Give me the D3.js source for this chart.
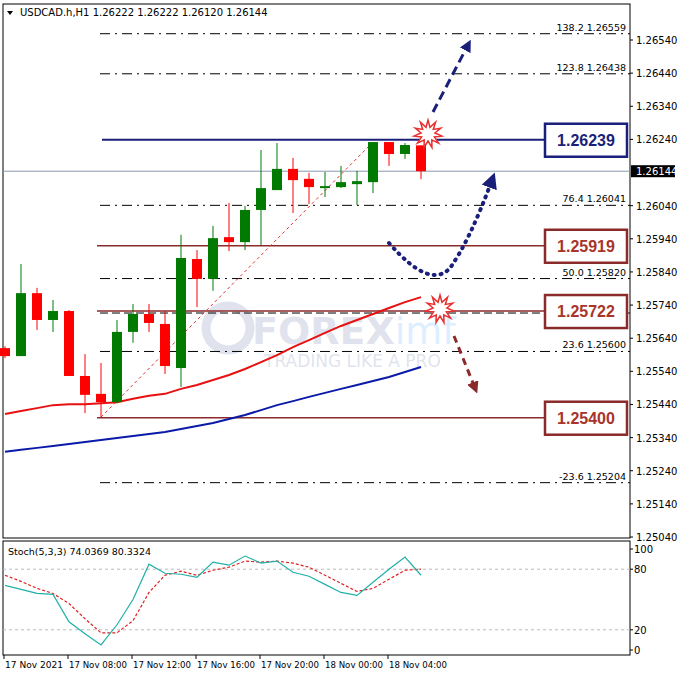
<!DOCTYPE html>
<html><head><meta charset="utf-8">
<script src="https://cdn.jsdelivr.net/npm/d3@7"></script>
<style>body{margin:0;background:#fff}svg{font-family:Tahoma,"DejaVu Sans",sans-serif}</style>
</head><body><svg id="c" width="678" height="678"></svg>
<script>
const opens=[1.25610,1.25586,1.25776,1.25695,1.25722,1.25526,1.25472,1.25447,1.25659,1.25713,1.25683,1.25550,1.25879,1.25819,1.25945,1.25930,1.26027,1.26087,1.26151,1.26121,1.26093,1.26096,1.26105,1.26111,1.26232,1.26196,1.26222];
const highs=[1.25616,1.25864,1.25792,1.25755,1.25725,1.25592,1.25565,1.25695,1.25743,1.25743,1.25722,1.25952,1.25906,1.25979,1.26048,1.26039,1.26208,1.26229,1.26184,1.26139,1.26142,1.26160,1.26145,1.26232,1.26232,1.26229,1.26222];
const lows=[1.25580,1.25586,1.25665,1.25659,1.25526,1.25414,1.25402,1.25444,1.25626,1.25659,1.25532,1.25493,1.25734,1.25783,1.25903,1.25906,1.25921,1.26087,1.26018,1.26045,1.26066,1.26093,1.26042,1.26078,1.26160,1.26181,1.26120];
const closes=[1.25586,1.25776,1.25695,1.25722,1.25526,1.25469,1.25447,1.25659,1.25713,1.25686,1.25556,1.25882,1.25819,1.25942,1.25930,1.26027,1.26093,1.26151,1.26117,1.26096,1.26099,1.26111,1.26114,1.26232,1.26196,1.26223,1.26144];
const maFast=[1.25411,1.25420,1.25429,1.25438,1.25441,1.25441,1.25444,1.25447,1.25457,1.25466,1.25472,1.25487,1.25499,1.25514,1.25529,1.25547,1.25568,1.25589,1.25613,1.25634,1.25656,1.25677,1.25695,1.25713,1.25731,1.25749,1.25764];
const maSlow=[1.25297,1.25303,1.25309,1.25315,1.25321,1.25327,1.25333,1.25339,1.25345,1.25351,1.25357,1.25366,1.25375,1.25384,1.25396,1.25408,1.25423,1.25438,1.25450,1.25463,1.25475,1.25487,1.25499,1.25511,1.25523,1.25538,1.25553];
const stochMain=[64,60,56,55,28,16,5,25,50,85,76,75,72,87,84,93,86,88,77,73,65,57,54,67,80,92,74];
const stochSig=[74,68,61,56,46,31,17,17,29,57,74,78,74,79,82,88,87,88,86,82,74,66,58,61,70,79,80];
const priceTicks=[1.26540,1.26440,1.26340,1.26240,1.26040,1.25940,1.25840,1.25740,1.25640,1.25540,1.25440,1.25340,1.25240,1.25140,1.25040];
const fibLevels=[["138.2",1.26559],["123.8",1.26438],["76.4",1.26041],["50.0",1.25820],["23.6",1.25600],["-23.6",1.25204]];
const levelBoxes=[["1.26239",1.26239,"#1a1f7a"],["1.25919",1.25919,"#8b2a2a"],["1.25722",1.25722,"#8b2a2a"],["1.25400",1.25400,"#8b2a2a"]];
const timeLabels=[[0,"17 Nov 2021"],[4,"17 Nov 08:00"],[8,"17 Nov 12:00"],[12,"17 Nov 16:00"],[16,"17 Nov 20:00"],[20,"18 Nov 00:00"],[24,"18 Nov 04:00"]];
const lastPrice=1.26144;

const svg=d3.select("#c");
const x=d3.scaleLinear().domain([0,26]).range([5,421]);
const xl=d3.scaleLinear().domain([0,26]).range([2,418]);
const y=d3.scaleLinear().domain([1.25040,1.26540]).range([537,40]);
const ys=d3.scaleLinear().domain([0,100]).range([650,549]);
const L=3,R=630;
svg.append("rect").attr("x",L).attr("y",4).attr("width",R-L).attr("height",534).attr("fill","none").attr("stroke","#000");
svg.append("rect").attr("x",L).attr("y",541).attr("width",R-L).attr("height",114).attr("fill","none").attr("stroke","#000");
priceTicks.forEach(p=>{svg.append("line").attr("x1",R).attr("x2",R+3).attr("y1",y(p)).attr("y2",y(p)).attr("stroke","#000");
 svg.append("text").attr("x",636).attr("y",y(p)+4).attr("font-size",10).text(p.toFixed(5));});
svg.append("line").attr("x1",L).attr("x2",R).attr("y1",y(lastPrice)).attr("y2",y(lastPrice)).attr("stroke","#8a9ab0");
svg.append("rect").attr("x",R+1).attr("y",y(lastPrice)-6).attr("width",44).attr("height",12).attr("fill","#000");
svg.append("text").attr("x",636).attr("y",y(lastPrice)+4).attr("font-size",10).attr("fill","#fff").text(lastPrice.toFixed(5));
const wm=svg.append("g").attr("opacity",0.15);
wm.append("circle").attr("cx",228).attr("cy",328).attr("r",22).attr("fill","none").attr("stroke","#3a4a8a").attr("stroke-width",9);
const wt=wm.append("text").attr("x",252).attr("y",344).attr("font-size",38);
wt.append("tspan").attr("font-weight","bold").attr("fill","#3a4a8a").text("FOREX");
wt.append("tspan").attr("fill","#1e90ff").text("imf");
wm.append("text").attr("x",264).attr("y",367).attr("font-size",17).attr("fill","#3a4a8a").text("TRADING LIKE A PRO");
fibLevels.forEach(([t,p])=>{svg.append("line").attr("x1",100).attr("x2",R).attr("y1",y(p)).attr("y2",y(p)).attr("stroke","#000").attr("stroke-dasharray","10,5,2,5");
 svg.append("text").attr("x",626).attr("y",y(p)-3).attr("font-size",9.5).attr("text-anchor","end").text(t+"  "+p.toFixed(5));});
svg.append("line").attr("x1",100).attr("x2",R).attr("y1",y(1.25722)+2).attr("y2",y(1.25722)+2).attr("stroke","#000").attr("stroke-dasharray","8,4");
levelBoxes.forEach(([t,p,c],i)=>{svg.append("line").attr("x1",i==0?102:97).attr("x2",545).attr("y1",y(p)).attr("y2",y(p)).attr("stroke",c).attr("stroke-width",i==0?2:1.5);
 svg.append("rect").attr("x",545).attr("y",y(p)-16).attr("width",82).attr("height",33).attr("fill","#fff").attr("stroke",c).attr("stroke-width",2.5);
 svg.append("text").attr("x",586).attr("y",y(p)+6).attr("text-anchor","middle").attr("font-size",16).attr("font-weight","bold").attr("font-family","Arial,Liberation Sans").attr("fill",i==0?c:"#a8342a").text(t);});
svg.append("line").attr("x1",x(6)).attr("y1",y(1.25402)).attr("x2",x(23)).attr("y2",y(1.26232)).attr("stroke","#e03030").attr("stroke-dasharray","3,3");
const ml=d3.line().x((d,i)=>x(i)).y(d=>y(d));
svg.append("path").datum(maFast).attr("d",ml).attr("fill","none").attr("stroke","#e81010").attr("stroke-width",2);
svg.append("path").datum(maSlow).attr("d",ml).attr("fill","none").attr("stroke","#0a1aa8").attr("stroke-width",2);
opens.forEach((o,i)=>{const c=closes[i],up=c>=o,col=up?"#007a00":"#ff0000";
 svg.append("line").attr("x1",x(i)).attr("x2",x(i)).attr("y1",y(highs[i])).attr("y2",y(lows[i])).attr("stroke",col);
 const t=y(Math.max(o,c)),b=y(Math.min(o,c));
 svg.append("rect").attr("x",x(i)-5).attr("width",10).attr("y",t).attr("height",Math.max(1.5,b-t)).attr("fill",col);});
const defs=svg.append("defs");
[["an","#1a1f7a"],["ab","#8b2a2a"]].forEach(([id,c])=>defs.append("marker").attr("id",id).attr("viewBox","0 0 10 10").attr("refX",5).attr("refY",5).attr("markerWidth",4).attr("markerHeight",4).attr("orient","auto").append("path").attr("d","M0,0L10,5L0,10z").attr("fill",c));
svg.append("line").attr("x1",433).attr("y1",112).attr("x2",468).attr("y2",45).attr("stroke","#1a1f7a").attr("stroke-width",3).attr("stroke-dasharray","9,5").attr("marker-end","url(#an)");
svg.append("path").attr("d","M389,243 Q430,290 450,268 Q470,240 492,180").attr("fill","none").attr("stroke","#1a1f7a").attr("stroke-width",4).attr("stroke-dasharray","1,6").attr("stroke-linecap","round").attr("marker-end","url(#an)");
svg.append("line").attr("x1",454).attr("y1",336).attr("x2",475).attr("y2",388).attr("stroke","#8b2a2a").attr("stroke-width",3).attr("stroke-dasharray","7,5").attr("marker-end","url(#ab)");
function star(cx,cy){const pts=d3.range(22).map(k=>[k*Math.PI/11,k%2?7:14]);
 svg.append("path").attr("d",d3.lineRadial().curve(d3.curveLinearClosed)(pts)).attr("transform",`translate(${cx},${cy})`).attr("fill","#fff").attr("stroke","#e83030").attr("stroke-width",1.5);}
star(428,134);star(440,309);
svg.append("path").attr("d","M7,11L13,11L10,15z").attr("fill","#000");
svg.append("text").attr("x",20).attr("y",16).attr("font-size",10).text("USDCAD.h,H1  1.26222 1.26222 1.26120 1.26144");
[80,20].forEach(v=>svg.append("line").attr("x1",L).attr("x2",R).attr("y1",ys(v)).attr("y2",ys(v)).attr("stroke","#bbb").attr("stroke-dasharray","3,3"));
[100,80,20,0].forEach(v=>{svg.append("text").attr("x",634).attr("y",ys(v)+4).attr("font-size",10).text(v);
 svg.append("line").attr("x1",R).attr("x2",R+3).attr("y1",ys(v)).attr("y2",ys(v)).attr("stroke","#000");});
const sl=d3.line().x((d,i)=>x(i)).y(d=>ys(d));
svg.append("path").datum(stochSig).attr("d",sl).attr("fill","none").attr("stroke","#e02020").attr("stroke-dasharray","3,2").attr("stroke-width",1.2);
svg.append("path").datum(stochMain).attr("d",sl).attr("fill","none").attr("stroke","#20b0a8").attr("stroke-width",1.2);
svg.append("text").attr("x",8).attr("y",555).attr("font-size",9.5).text("Stoch(5,3,3) 74.0369 80.3324");
timeLabels.forEach(([i,t])=>{const px=xl(i);svg.append("line").attr("x1",px+2).attr("x2",px+2).attr("y1",655).attr("y2",659).attr("stroke","#000");
 svg.append("text").attr("x",px+3).attr("y",668).attr("font-size",9).attr("textLength",58).attr("lengthAdjust","spacingAndGlyphs").text(t);});
</script></body></html>
